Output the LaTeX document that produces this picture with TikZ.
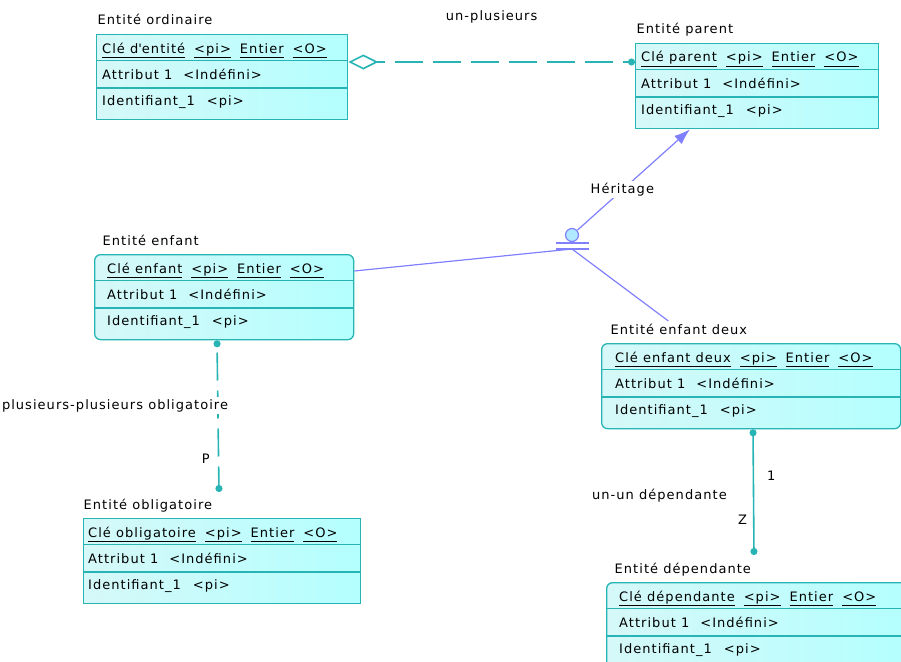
\documentclass[tikz,border=0pt]{standalone}
\usepackage{fontspec}
\setmainfont{DejaVu Sans}[LetterSpace=8]
\usetikzlibrary{arrows.meta, calc, positioning}
\definecolor{erteal}{RGB}{40,180,180}
\definecolor{erblue}{RGB}{128,128,255}
\definecolor{erfilla}{RGB}{214,248,248}
\definecolor{erfillb}{RGB}{180,255,255}
\definecolor{inhfill}{RGB}{176,232,255}
\tikzset{
    ertext/.style={font=\fontsize{13}{15}\selectfont, inner sep=0pt, text=black},
    erbox/.style={draw=erteal, line width=1.3pt, left color=erfilla, right color=erfillb, inner sep=0pt, rectangle},
    sqbox/.style={erbox},
    chbox/.style={erbox, rounded corners=6pt},
    erline/.style={draw=erteal, line width=1.3pt},
    relline/.style={draw=erteal, line width=1.6pt},
    inhline/.style={draw=erblue, line width=1.2pt},
    lbl/.style={ertext, fill=white, inner sep=2pt},
}
\newcommand{\keyul}[1]{\underline{\vphantom{p}#1}}
\newcommand{\keyrow}[1]{\keyul{#1}\hspace{9pt}\keyul{<pi>}\hspace{9pt}\keyul{Entier}\hspace{9pt}\keyul{<O>}}
\newcommand{\entity}[7]{
    \node[#6, minimum width=#3, minimum height=85, anchor=north west] (#1) at (#2) {};
    \draw[erline] ($(#1.west |- #1.north)+(0,26.5)$) -- ($(#1.east |- #1.north)+(0,26.5)$);
    \draw[erline] ($(#1.west |- #1.north)+(0,54)$) -- ($(#1.east |- #1.north)+(0,54)$);
    \node[ertext, anchor=base west] (#1-t) at ($(#1.west |- #1.north)+({#7-4.5},-9)$) {#4};
    \node[ertext, anchor=base west] (#1-k) at ($(#1.west |- #1.north)+(#7,19)$) {\keyrow{#5}};
    \node[ertext, anchor=base west] (#1-a) at ($(#1.west |- #1.north)+(#7,45)$) {Attribut 1\hspace{11pt}<Indéfini>};
    \node[ertext, anchor=base west] (#1-i) at ($(#1.west |- #1.north)+(#7,71.5)$) {Identifiant\_1\hspace{12pt}<pi>};
}

\begin{document}
\begin{tikzpicture}[x=1pt, y=-1pt]
    \useasboundingbox (0,0) rectangle (901,661);
    \clip (0,0) rectangle (901,661);
    \entity{ord}{96,34}{251}{Entité ordinaire}{Clé d\textquotesingle entité}{sqbox}{6}
    \entity{par}{635,43}{243}{Entité parent}{Clé parent}{sqbox}{6}
    \entity{enf}{94,254}{259}{Entité enfant}{Clé enfant}{chbox}{13}
    \entity{deux}{601,343}{299}{Entité enfant deux}{Clé enfant deux}{chbox}{14}
    \entity{obl}{83,518}{277}{Entité obligatoire}{Clé obligatoire}{sqbox}{5}
    \entity{dep}{606,582}{300}{Entité dépendante}{Clé dépendante}{chbox}{13}
    % inheritance symbol
    \node[circle, draw=erblue, fill=inhfill, line width=1.2pt, minimum width=12pt, minimum height=13pt, inner sep=0pt] (inh) at (572,235) {};
    \coordinate (inh-j) at ($(inh)+(0,14)$);
    \draw[inhline] ($(inh)+(-16,8)$) -- ++(33,0);
    \draw[inhline] ($(inh)+(-16,14)$) -- ++(33,0);
    \coordinate (ord-r) at ($(ord.east |- ord.north)+(0,28)$);
    \coordinate (par-l) at ($(par.west |- par.north)+(0,19)$);
    \coordinate (par-b) at ($(par.west |- par.south)+(55,0)$);
    \coordinate (enf-r) at ($(enf.east |- enf.north)+(0,17)$);
    \coordinate (enf-b) at ($(enf.west |- enf.south)+(123,0)$);
    \coordinate (obl-u) at ($(obl.west |- obl.north)+(136,-26)$);
    \coordinate (deux-b) at ($(deux.west |- deux.south)+(152,0)$);
    \coordinate (dep-u) at ($(dep.west |- dep.north)+(148,-27)$);
    \draw[relline, dash pattern=on 28pt off 10pt, dash phase=20pt,
        {Diamond[open, fill=white, length=30pt, width=15pt]}-{Circle[length=7pt]}]
        (ord-r) -- node[ertext, above=38pt] (upl) {un-plusieurs} (par-l);
    \draw[inhline, -{Latex[length=16pt, width=11pt]}]
        (inh) -- node[lbl, pos=0.4] (her) {Héritage} (par-b);
    \draw[inhline] (enf-r) -- (inh-j);
    \draw[inhline, shorten >=4pt] (inh-j) -- (deux-t);
    \draw[relline, dash pattern=on 28pt off 10pt, dash phase=-6pt,
        {Circle[length=7pt]}-{Circle[length=7pt]}]
        (enf-b) -- node[lbl, pos=0.43, anchor=east, xshift=13pt] (ppo) {plusieurs-plusieurs obligatoire}
        node[ertext, pos=0.78, anchor=east, xshift=-8pt] (pp) {P} (obl-u);
    \draw[relline, {Circle[length=7pt]}-{Circle[length=7pt]}]
        (deux-b) -- node[ertext, pos=0.53, anchor=east, xshift=-26pt] (uud) {un-un dépendante}
        node[ertext, pos=0.37, anchor=west, xshift=13pt] (uu1) {1}
        node[ertext, pos=0.72, anchor=east, xshift=-6pt] (uuz) {Z} (dep-u);
\end{tikzpicture}
\end{document}
